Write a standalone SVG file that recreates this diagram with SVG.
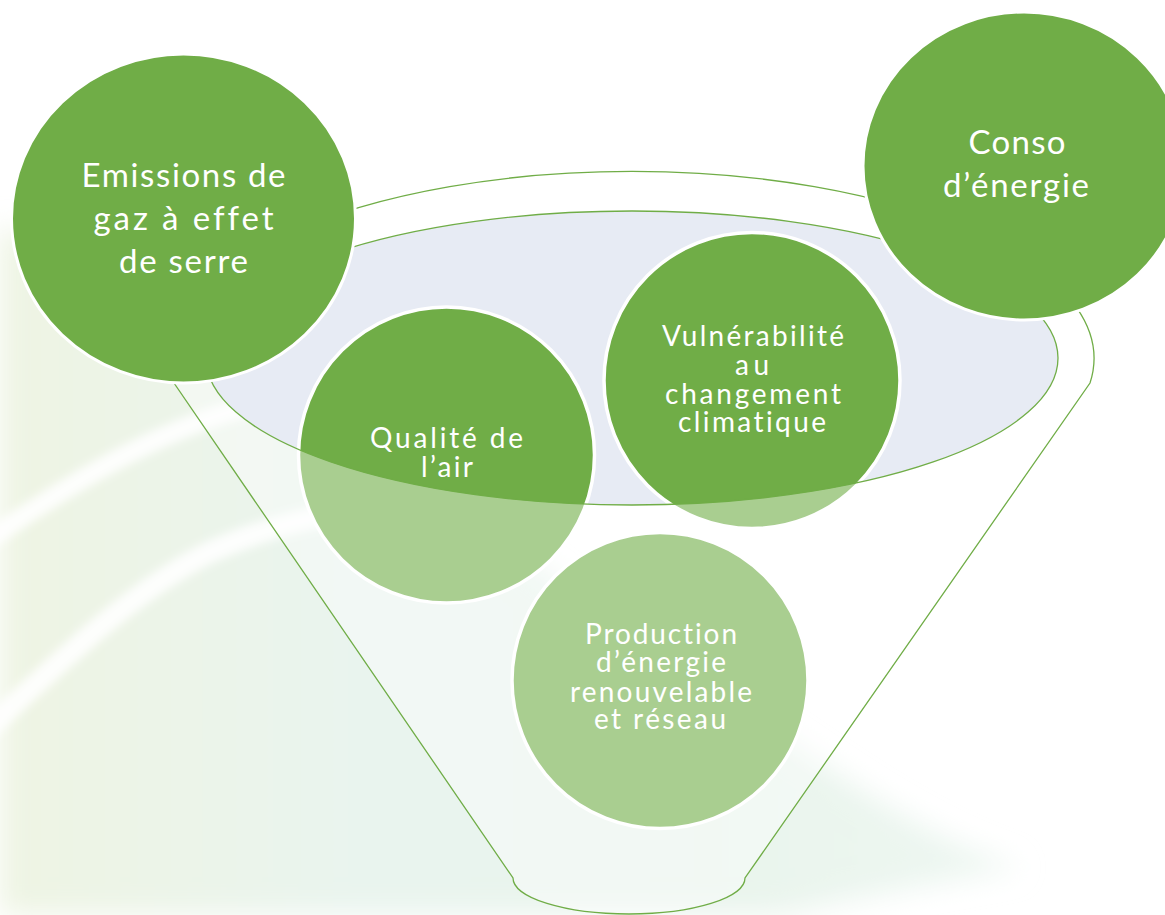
<svg xmlns="http://www.w3.org/2000/svg" width="1165" height="915" viewBox="0 0 1165 915">
  <defs>
    <linearGradient id="tint" x1="0" y1="0" x2="1" y2="0">
      <stop offset="0" stop-color="#EEF4E3"/>
      <stop offset="0.35" stop-color="#E9F4EE"/>
      <stop offset="0.7" stop-color="#E9F4EC"/>
      <stop offset="1" stop-color="#EEF7F2"/>
    </linearGradient>
    <filter id="blur" x="-20%" y="-20%" width="140%" height="140%">
      <feGaussianBlur stdDeviation="5"/>
    </filter>
    <filter id="blur2" x="-20%" y="-20%" width="140%" height="140%">
      <feGaussianBlur stdDeviation="14"/>
    </filter>
  </defs>
  <style>
    .big { fill: #70AD47; stroke: #FFFFFF; stroke-width: 3; }
    .node { fill: #70AD47; stroke: #FFFFFF; stroke-width: 3.5; }
    .lbl { fill: #FFFFFF; font-family: Lato, "Open Sans", "Liberation Sans", sans-serif; text-anchor: middle; font-variant-ligatures: none; }
    .l32 { font-size: 33px; }
    .l27 { font-size: 28px; }
    .rim { fill: #E7EBF4; stroke: none; }
    .front { fill: #FFFFFF; fill-opacity: 0.4; fill-rule: evenodd; stroke: #70AD47; stroke-width: 1.3; }
  </style>

  <!-- background -->
  <rect x="0" y="0" width="1165" height="915" fill="#FFFFFF"/>
  <g id="background">
    <path d="M0,225 C250,320 450,510 650,645 C800,745 900,830 1022,868 C950,880 850,900 780,915 L0,915 Z" fill="url(#tint)" filter="url(#blur2)"/>
    <path d="M-30,552 C60,490 150,432 250,406 C330,388 420,384 520,402" fill="none" stroke="#FFFFFF" stroke-width="20" stroke-opacity="0.9" filter="url(#blur)"/>
    <path d="M-30,745 C60,662 130,592 210,552 C300,512 380,502 480,508" fill="none" stroke="#FFFFFF" stroke-width="22" stroke-opacity="0.9" filter="url(#blur)"/>
  </g>

  <!-- funnel back -->
  <g id="funnel-back">
    <ellipse class="rim" cx="632" cy="358" rx="426" ry="147"/>
  </g>

  <g id="node-qualite">
    <circle class="node" cx="446.5" cy="455" r="148"/>
  </g>
  <g id="node-vulnerabilite">
    <circle class="node" cx="752" cy="380.5" r="148"/>
  </g>
  <g id="node-production">
    <circle class="node" cx="660" cy="680.5" r="148"/>
  </g>

  <!-- funnel front (outline and translucent body) -->
  <g id="connectors">
    <path class="front" d="M174,383 A462,187 0 1 1 1090,383 L745,878 A116,36 0 0 1 513,878 Z M206,358 A426,147 0 1 0 1058,358 A426,147 0 1 0 206,358 Z"/>
  </g>

  <g id="node-emissions">
    <ellipse class="big" cx="183.5" cy="218.5" rx="172" ry="164.5"/>
    <text class="lbl l32" x="183.5" y="187" textLength="204" lengthAdjust="spacing">Emissions de</text>
    <text class="lbl l32" x="183.5" y="230" textLength="180" lengthAdjust="spacing">gaz à effet</text>
    <text class="lbl l32" x="183.5" y="273" textLength="129" lengthAdjust="spacing">de serre</text>
  </g>

  <g id="node-conso">
    <ellipse class="big" cx="1024" cy="166" rx="161" ry="154"/>
    <text class="lbl l32" x="1017" y="154" textLength="97" lengthAdjust="spacing">Conso</text>
    <text class="lbl l32" x="1016" y="197" textLength="146" lengthAdjust="spacing">d’énergie</text>
  </g>

  <g id="labels">
    <text class="lbl l27" x="446.5" y="448" textLength="153" lengthAdjust="spacing">Qualité de</text>
    <text class="lbl l27" x="447" y="477" textLength="52" lengthAdjust="spacing">l’air</text>

    <text class="lbl l27" x="753" y="346" textLength="182" lengthAdjust="spacing">Vulnérabilité</text>
    <text class="lbl l27" x="752" y="375" textLength="34" lengthAdjust="spacing">au</text>
    <text class="lbl l27" x="753" y="404" textLength="176" lengthAdjust="spacing">changement</text>
    <text class="lbl l27" x="752" y="432" textLength="148" lengthAdjust="spacing">climatique</text>

    <text class="lbl l27" x="661" y="644" textLength="152" lengthAdjust="spacing">Production</text>
    <text class="lbl l27" x="661" y="672" textLength="130" lengthAdjust="spacing">d’énergie</text>
    <text class="lbl l27" x="661" y="702" textLength="182" lengthAdjust="spacing">renouvelable</text>
    <text class="lbl l27" x="660" y="729" textLength="132" lengthAdjust="spacing">et réseau</text>
  </g>
</svg>
